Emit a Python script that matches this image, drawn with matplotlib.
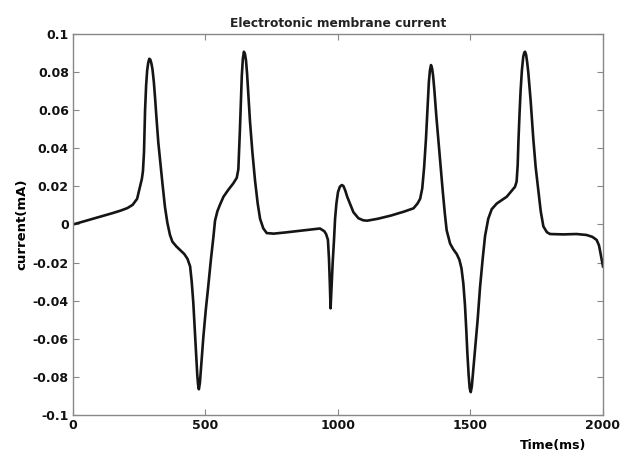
import matplotlib
matplotlib.use("Agg")
import matplotlib.pyplot as plt

# membrane current trace, time in ms, current in mA
time_ms = [0, 50, 100, 150, 180, 205, 225, 242, 253, 260, 264, 268, 272, 276,
           280, 284, 288, 292, 296, 300, 305, 310, 315, 322, 330, 338, 347,
           356, 366, 375, 390, 405, 420, 432, 442, 448, 454, 459, 464, 469,
           472, 475, 479, 485, 492, 501, 510, 520, 530, 536, 545, 555, 568,
           585, 605, 618, 624, 630, 634, 637, 641, 645, 649, 653, 657, 662,
           668, 677, 687, 697, 706, 718, 731, 757, 800, 850, 900, 932, 948,
           955, 962, 966, 969, 972, 976, 980, 985, 989, 994, 1000, 1007, 1014,
           1020, 1027, 1035, 1045, 1058, 1077, 1095, 1110, 1150, 1200, 1250,
           1285, 1300, 1310, 1318, 1325, 1332, 1338, 1343, 1347, 1351, 1355,
           1359, 1364, 1371, 1379, 1387, 1395, 1403, 1410, 1423, 1435, 1448,
           1458, 1466, 1473, 1479, 1484, 1488, 1493, 1497, 1501, 1505, 1510,
           1517, 1527, 1536, 1546, 1555, 1567, 1580, 1599, 1637, 1668, 1674,
           1678, 1681, 1685, 1689, 1694, 1699, 1703, 1706, 1710, 1714, 1718,
           1722, 1727, 1732, 1737, 1746, 1756, 1765, 1775, 1788, 1800, 1850,
           1900, 1938, 1960, 1976, 1985, 1992, 2000]
current_mA = [0.0, 0.002, 0.004, 0.006, 0.0073, 0.0086, 0.0103, 0.0135,
              0.0198, 0.024, 0.028, 0.038, 0.06, 0.073, 0.081, 0.085, 0.087,
              0.0865, 0.0845, 0.0815, 0.075, 0.066, 0.056, 0.043, 0.032,
              0.021, 0.0093, 0.001, -0.0055, -0.009, -0.0115, -0.0135,
              -0.0155, -0.018, -0.022, -0.03, -0.041, -0.054, -0.068, -0.079,
              -0.084, -0.0865, -0.083, -0.072, -0.059, -0.045, -0.033, -0.019,
              -0.0064, 0.002, 0.007, 0.0105, 0.0146, 0.018, 0.0216, 0.0245,
              0.029, 0.05, 0.067, 0.078, 0.087, 0.0907, 0.0895, 0.086, 0.079,
              0.068, 0.054, 0.038, 0.023, 0.011, 0.003, -0.002, -0.0045,
              -0.0048, -0.0042, -0.0034, -0.0026, -0.0021, -0.0035, -0.005,
              -0.008, -0.018, -0.03, -0.044, -0.032, -0.02, -0.008, 0.003,
              0.011, 0.017, 0.0198, 0.0207, 0.0203, 0.018, 0.0145, 0.011,
              0.0065, 0.0033, 0.0022, 0.002, 0.003, 0.0047, 0.0068, 0.0085,
              0.011, 0.0135, 0.019, 0.03, 0.045, 0.062, 0.075, 0.081, 0.0837,
              0.082, 0.078, 0.07, 0.057, 0.044, 0.031, 0.018, 0.006, -0.003,
              -0.01, -0.013, -0.0155, -0.0185, -0.023, -0.031, -0.042, -0.055,
              -0.067, -0.079, -0.086, -0.088, -0.085, -0.077, -0.066, -0.05,
              -0.033, -0.018, -0.006, 0.003, 0.008, 0.011, 0.0146, 0.0198,
              0.0225, 0.031, 0.044, 0.058, 0.07, 0.081, 0.088, 0.0903, 0.0907,
              0.089, 0.085, 0.08, 0.0735, 0.065, 0.055, 0.045, 0.03, 0.018,
              0.007, -0.001, -0.004, -0.005, -0.0052, -0.005, -0.0055, -0.0065,
              -0.0081, -0.011, -0.016, -0.022]

x_ticks = [0, 500, 1000, 1500, 2000]
y_ticks = [-0.1, -0.08, -0.06, -0.04, -0.02, 0, 0.02, 0.04, 0.06, 0.08, 0.1]
y_tick_labels = ["-0.1", "-0.08", "-0.06", "-0.04", "-0.02", "0",
                 "0.02", "0.04", "0.06", "0.08", "0.1"]

fig = plt.figure(figsize=(6.33, 4.59), dpi=100)
ax = fig.add_axes([0.1153, 0.0959, 0.8373, 0.83])

ax.plot(time_ms, current_mA, color="#151515", linewidth=1.9,
        solid_joinstyle="round")

ax.set_xlim(0, 2000)
ax.set_ylim(-0.1, 0.1)
ax.set_xticks(x_ticks)
ax.set_xticklabels([str(t) for t in x_ticks], fontweight="bold", fontsize=9)
ax.set_yticks(y_ticks)
ax.set_yticklabels(y_tick_labels, fontweight="bold", fontsize=9)

for s in ax.spines.values():
    s.set_color("#888888")
    s.set_linewidth(1.0)
ax.tick_params(direction="in", length=4, color="#888888", top=True,
               right=True, pad=3, labelcolor="#111111")

ax.set_title("Electrotonic membrane current", fontsize=8.8,
             fontweight="bold", color="#222222", pad=5)
ax.set_xlabel("Time(ms)", fontsize=9, fontweight="bold")
ax.xaxis.set_label_coords(0.905, -0.062)
ax.set_ylabel("current(mA)", fontsize=9.5, fontweight="bold")
ax.yaxis.set_label_coords(-0.085, 0.5)

fig.savefig("out.png", dpi=100)
